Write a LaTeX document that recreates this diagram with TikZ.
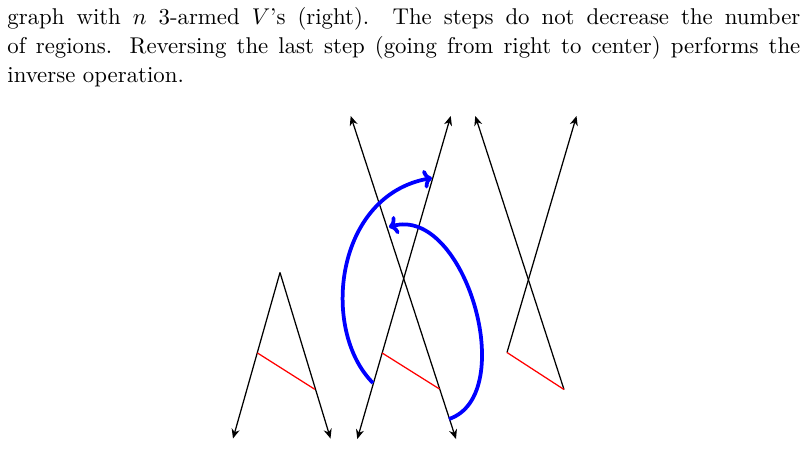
\documentclass[tikz,border=0pt]{standalone}
\usetikzlibrary{calc, arrows.meta}
\tikzset{
  arm/.style={black, semithick, -{Stealth[length=4.6pt, width=3.9pt]}},
  bothways/.style={black, semithick, {Stealth[length=4.6pt, width=3.9pt]}-{Stealth[length=4.6pt, width=3.9pt]}},
  rung/.style={red, semithick},
  move/.style={blue, line width=1.8pt, -{To[length=4.2pt, width=9pt]}},
  capline/.style={anchor=base west, inner sep=0pt, font=\fontsize{10.95}{13.6}\selectfont},
}
\begin{document}
\begin{tikzpicture}[x=0.48pt, y=-0.48pt]
\useasboundingbox (0,0) rectangle (807,464);
% caption lines
\node[capline] (capa) at (7,24) {\makebox[380.6pt][s]{graph with $n$ 3-armed $V$'s (right). The steps do not decrease the number}};
\node[capline] (capb) at (7,53) {\makebox[380.6pt][s]{of regions. Reversing the last step (going from right to center) performs the}};
\node[capline] (capc) at (7,82) {inverse operation.};

% left: the V
\coordinate (apex) at (280,272.5);
\coordinate (vleft) at (233,438.5);
\coordinate (vright) at (330.5,438.5);
\coordinate (vrungl) at (257.5,353);
\coordinate (vrungr) at (314.8,389.3);
\draw[arm] (apex) -- (vleft);
\draw[arm] (apex) -- (vright);
\draw[rung] (vrungl) -- (vrungr);

% center: two crossing lines
\coordinate (atop) at (350.7,116);
\coordinate (abot) at (456,439);
\coordinate (btop) at (450.7,116);
\coordinate (bbot) at (357.3,439);
\coordinate (crungl) at (382.2,353);
\coordinate (crungr) at (439.5,389);
\draw[bothways] (atop) -- (abot);
\draw[bothways] (btop) -- (bbot);
\draw[rung] (crungl) -- (crungr);

% moving the lower ends up
\coordinate (mvastart) at (373,383);
\coordinate (mvaend) at (432,178);
\coordinate (mvbstart) at (449,419);
\coordinate (mvbend) at (389,227);
\draw[move] (mvastart) .. controls (320,330) and (335,195) .. (mvaend);
\draw[move] (mvbstart) .. controls (520,395) and (465,205) .. (mvbend);

% right: 3-armed V
\coordinate (rrungl) at (507,352.5);
\coordinate (rrungr) at (564,389.5);
\coordinate (ctop) at (475.3,116);
\coordinate (dtop) at (576.5,116);
\draw[arm] (rrungr) -- (ctop);
\draw[arm] (rrungl) -- (dtop);
\draw[rung] (rrungl) -- (rrungr);
\end{tikzpicture}
\end{document}
